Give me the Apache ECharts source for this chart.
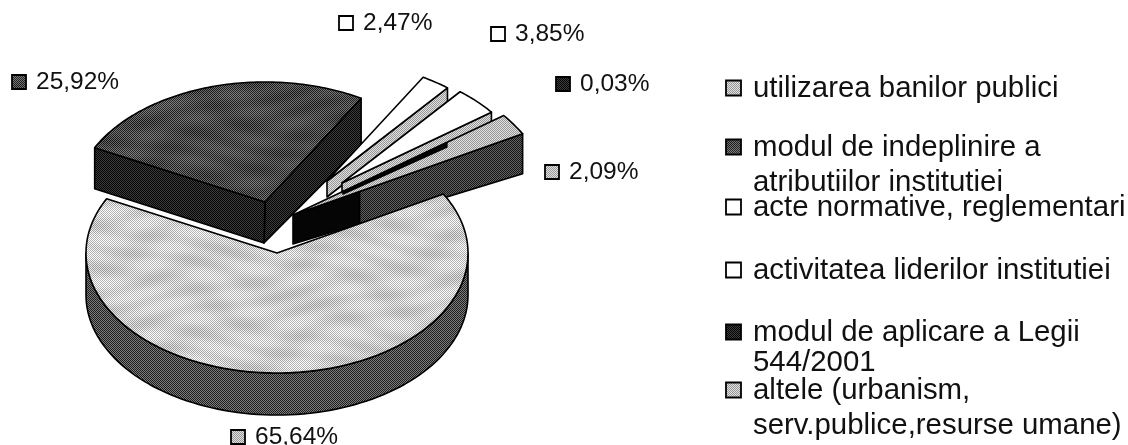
<!DOCTYPE html>
<html>
<head>
<meta charset="utf-8">
<title>pie</title>
<script src="https://cdn.jsdelivr.net/npm/echarts@6/dist/echarts.min.js"></script>
<style>
html, body { margin: 0; padding: 0; background: #fff; }
#container { width: 1128px; height: 445px; }
</style>
</head>
<body>
<div id="container"></div>
<script>
// date
var categories = [
    'utilizarea banilor publici',
    'modul de indeplinire a\natributiilor institutiei',
    'acte normative, reglementari',
    'activitatea liderilor institutiei',
    'modul de aplicare a Legii\n544/2001',
    'altele (urbanism,\nserv.publice,resurse umane)'
];
// ordinea din legenda nu e aceeasi cu a feliilor
var sliceNames = ['altele', 'utilizarea', 'acte', 'activitatea', 'legea544', 'modul'];
var sliceValues = [65.64, 25.92, 2.47, 3.85, 0.03, 2.09];

// halftone, ca in scan
function halftone(a, b, mottle) {
    var w = 300, h = 200;
    var c = document.createElement('canvas');
    c.width = w;
    c.height = h;
    var ctx = c.getContext('2d');
    for (var y = 0; y < h; y++) {
        for (var x = 0; x < w; x++) {
            var v = (x + y) % 2 === 0 ? a : b;
            var px = x * 2 * Math.PI / w, py = y * 2 * Math.PI / h;
            var m = mottle * Math.sin(px * 3 + 2 * Math.sin(py * 2)) * Math.sin(py * 7 + Math.sin(px * 2));
            v = Math.round(v + m);
            ctx.fillStyle = 'rgb(' + v + ',' + v + ',' + v + ')';
            ctx.fillRect(x, y, 1, 1);
        }
    }
    return { image: c, repeat: 'repeat' };
}

var fills = {
    light: halftone(165, 245, 16),
    mid: halftone(150, 225, 0),
    dark: halftone(30, 115, 12),
    darker: halftone(5, 60, 0),
    wall: halftone(30, 125, 0),
    face6: halftone(20, 100, 0),
    black: '#050505',
    white: '#ffffff'
};

var RX = 191, RY = 120, START = 29.4;

// pozitia fiecarei felii (explodare), aceeasi ordine ca sliceValues
var sliceGeo = [
    { x: 277, y: 253, r: 1, top: fills.light, z: 9 },
    { x: 265, y: 202, r: 1, top: fills.dark, z: 1 },
    { x: 327, y: 181, r: 1, top: fills.white, z: 2, d0: 16, d1: 15, face: fills.mid },
    { x: 342, y: 183, r: 0.98, top: fills.white, z: 3, d0: 9, d1: 15, face: fills.mid },
    { x: 343, y: 192, r: 0.68, top: fills.black, z: 6, d0: 2, d1: 4, face: fills.black },
    { x: 293, y: 215, r: 1.38, top: fills.mid, z: 5, d0: 29, d1: 40, face: fills.face6, split: 0.29 }
];

function point(g, deg) {
    var a = deg * Math.PI / 180;
    return [g.x + g.r * RX * Math.cos(a), g.y - g.r * RY * Math.sin(a)];
}

function poly(points, fill, z) {
    return {
        type: 'polygon',
        z2: z,
        shape: { points: points },
        style: { fill: fill, stroke: '#000', lineWidth: 1.6, lineJoin: 'round' }
    };
}

function lerp(a, b, t) {
    return [a[0] + (b[0] - a[0]) * t, a[1] + (b[1] - a[1]) * t];
}

function sideFace(g, outer, z) {
    var apex = [g.x, g.y];
    var a2 = [apex[0], apex[1] + g.d0];
    var o2 = [outer[0], outer[1] + g.d1];
    if (!g.split) {
        return [poly([apex, outer, o2, a2], g.face, z)];
    }
    var mTop = lerp(apex, outer, g.split);
    var mBot = lerp(a2, o2, g.split);
    return [
        poly([apex, mTop, mBot, a2], fills.black, z),
        poly([mTop, outer, o2, mBot], g.face, z)
    ];
}

function renderSlice(params, api) {
    var i = params.dataIndex;
    var g = sliceGeo[i];
    var before = 0;
    for (var k = 0; k < i; k++) before += sliceValues[k];
    var a0 = START - before * 3.6;
    var a1 = a0 - api.value(0) * 3.6;
    var children = [];
    var arc = [];
    var steps = Math.max(2, Math.ceil(a0 - a1));
    for (var s = 0; s <= steps; s++) {
        arc.push(point(g, a0 + (a1 - a0) * s / steps));
    }

    if (i === 0) {
        // peretele frontal al feliei mari
        var DEPTH = 42, wall = [], back = [];
        for (var d = 180; d <= 360; d += 2) {
            var p = point(g, d);
            wall.push(p);
            back.unshift([p[0], p[1] + DEPTH]);
        }
        children.push(poly(wall.concat(back), fills.wall, g.z));
    } else if (i === 1) {
        var apex = [g.x, g.y];
        var ol = arc[0], or = arc[arc.length - 1];
        children.push(poly([apex, or, [or[0], or[1] + 47], [apex[0] - 1, apex[1] + 41]], fills.darker, g.z));
        children.push(poly([apex, ol, [ol[0], ol[1] + 41], [apex[0] - 1, apex[1] + 41]], fills.darker, g.z));
    } else {
        children = children.concat(sideFace(g, arc[arc.length - 1], g.z));
    }

    children.push(poly([[g.x, g.y]].concat(arc), g.top, g.z + 0.5));
    return { type: 'group', children: children };
}

function pctText(v) {
    return v.toFixed(2).replace('.', ',') + '%';
}

// etichetele cu procente si legenda
var labelPos = [[231, 437], [12, 82], [339, 23], [491, 34], [556, 84], [545, 172]];
var labelFill = [fills.mid, fills.dark, fills.white, fills.white, fills.darker, fills.mid];
var legendRows = [88, 147, 207, 270, 332, 390];
var legendLine = [35, 35, 35, 35, 30, 35];
var legendFill = [fills.mid, fills.dark, fills.white, fills.white, fills.darker, fills.mid];
var FONT = '"Liberation Sans", Arial, sans-serif';

function marker(x, y, size, fill) {
    return {
        type: 'rect',
        shape: { x: x, y: y - size / 2, width: size, height: size },
        style: { fill: fill, stroke: '#000', lineWidth: 1.8 }
    };
}

var graphics = [];
sliceValues.forEach(function (v, i) {
    var p = labelPos[i];
    graphics.push(marker(p[0], p[1], 14, labelFill[i]));
    graphics.push({
        type: 'text',
        style: {
            x: p[0] + 24, y: p[1], text: pctText(v), verticalAlign: 'middle',
            font: '24.5px ' + FONT, fill: '#111'
        }
    });
});
categories.forEach(function (name, i) {
    var y = legendRows[i];
    graphics.push(marker(726, y, 15, legendFill[i]));
    graphics.push({
        type: 'text',
        style: {
            x: 753, y: y - legendLine[i] / 2 + 1, text: name, verticalAlign: 'top',
            font: '29.4px ' + FONT, fill: '#111', lineHeight: legendLine[i]
        }
    });
});

var myChart = echarts.init(document.getElementById('container'));
var option = {
    animation: false,
    backgroundColor: '#fff',
    graphic: graphics,
    series: [{
        type: 'custom',
        coordinateSystem: 'none',
        silent: true,
        renderItem: renderSlice,
        data: sliceValues.map(function (v, i) {
            return { name: sliceNames[i], value: [v] };
        })
    }]
};
myChart.setOption(option);
</script>
</body>
</html>
